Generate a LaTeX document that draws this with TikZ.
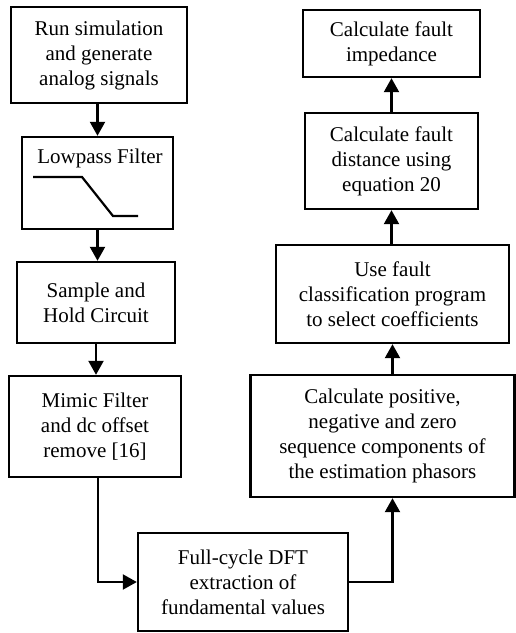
\documentclass[tikz,border=0pt]{standalone}
\usepackage{fontspec}
\setmainfont{Liberation Serif}
\newfontfamily\tnr{Liberation Serif}
\usetikzlibrary{arrows.meta,calc}
\begin{document}
\begin{tikzpicture}[x=1pt,y=-1pt,
  txt/.style={font=\tnr\fontsize{21}{25}\selectfont},
  box/.style={draw,line width=2.4pt,align=center,inner sep=0pt,txt},
  arr/.style={line width=2.2pt,-{Triangle[length=14pt,width=15pt]}},
  curve/.style={line width=2.2pt}]
\useasboundingbox (0,0) rectangle (515,633);
\node[box,minimum width=176pt,minimum height=96pt] (B1) at (99,55) {Run simulation\\and generate\\analog signals};
\node[box,minimum width=151pt,minimum height=92pt] (B2) at (97.5,183) {};
\node[txt,inner sep=0pt] (B2t) at (100,158) {Lowpass Filter};
\node[box,minimum width=158pt,minimum height=81pt] (B3) at (96,302.5) {Sample and\\Hold Circuit};
\node[box,minimum width=172pt,minimum height=101pt] (B4) at (95,426.5) {Mimic Filter\\and dc offset\\remove [16]};
\node[box,minimum width=210pt,minimum height=98pt] (DFT) at (243,582) {Full-cycle DFT\\extraction of\\fundamental values};
\node[box,minimum width=264pt,minimum height=122pt] (CP) at (382.5,436) {Calculate positive,\\negative and zero\\sequence components of\\the estimation phasors};
\node[box,minimum width=233pt,minimum height=98pt] (UF) at (392.5,294) {Use fault\\classification program\\to select coefficients};
\node[box,minimum width=173pt,minimum height=96pt] (FD) at (391.5,161) {Calculate fault\\distance using\\equation 20};
\node[box,minimum width=177pt,minimum height=67pt] (FI) at (391.5,43.5) {Calculate fault\\impedance};
\draw[curve] (33,177) -- (82,177) -- (113,216) -- (138,216);
\draw[arr] (B1.south -| B2.north) -- (B2.north);
\draw[arr] (B2.south) -- (B2.south |- B3.north);
\draw[arr] (B3.south) -- (B3.south |- B4.north);
\coordinate (L) at ($(B4.south)+(3,0)$);
\draw[arr] (L) |- (DFT.west);
\draw[arr] (DFT.east) -| (UF.south |- CP.south);
\draw[arr] (UF.south |- CP.north) -- (UF.south);
\draw[arr] (UF.north -| FD.south) -- (FD.south);
\draw[arr] (FD.north) -- (FI.south);
\end{tikzpicture}
\end{document}
